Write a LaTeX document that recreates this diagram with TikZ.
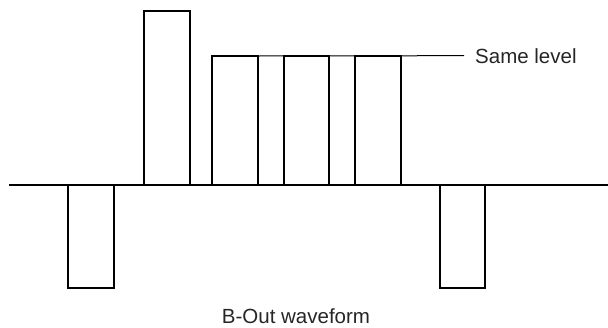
\documentclass[tikz,border=0pt]{standalone}
\usepackage{fontspec}
\setmainfont{Liberation Sans}
\begin{document}
\begin{tikzpicture}[x=1pt,y=-1pt,
  wave/.style={line width=2pt, line join=miter},
  guide/.style={line width=1pt},
  lbl/.style={inner sep=0pt, font=\fontsize{20.5}{24}\selectfont, text=black!85}]
\useasboundingbox (0,0) rectangle (608,327);
\coordinate (axL) at (9,185);
\coordinate (axR) at (608,185);
\draw[wave] (axL) -- (axR);
\draw[wave] (68,185) rectangle (114,288);
\draw[wave] (144,185) rectangle (190,11);
\draw[wave] (212,185) rectangle (258,56);
\draw[wave] (284,185) rectangle (329,56);
\draw[wave] (355,185) rectangle (401,56);
\draw[wave] (440,185) rectangle (485,288);
\coordinate (lvl) at (258,56);
\node[lbl, anchor=base west] (same) at (475,63) {Same level};
\draw[guide] (lvl) -- ([xshift=-11pt]same.west);
\node[lbl, anchor=base] (title) at (296,323) {B-Out waveform};
\end{tikzpicture}
\end{document}
